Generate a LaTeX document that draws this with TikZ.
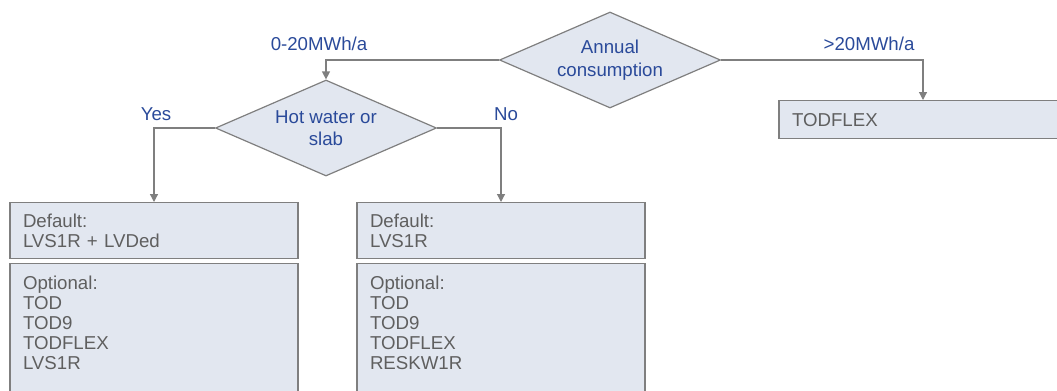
\documentclass[tikz,border=0pt]{standalone}
\usepackage{fontspec}
\setmainfont{Liberation Sans}
\usetikzlibrary{shapes.geometric,arrows.meta}
\definecolor{boxfill}{HTML}{E2E7F0}
\definecolor{boxline}{HTML}{7F7F7F}
\definecolor{labblue}{HTML}{2A4A9A}
\definecolor{txtgrey}{HTML}{5F5F5F}
\tikzset{
  decision/.style={diamond, draw=boxline, fill=boxfill, line width=0.9pt, text=labblue,
    align=center, inner sep=0pt, aspect=2.3, minimum width=165.75pt, minimum height=72pt,
    font=\fontsize{14}{17}\selectfont},
  tarbox/.style={draw=boxline, fill=boxfill, line width=0.9pt, text=txtgrey, align=left,
    anchor=north, minimum width=216pt, text width=196.5pt, inner xsep=9.75pt,
    minimum height=42pt, font=\fontsize{14}{15}\selectfont},
  optbox/.style={draw=boxline, fill=boxfill, line width=0.9pt, text=txtgrey, anchor=north,
    minimum width=216pt, inner xsep=9.75pt, inner ysep=9pt, font=\fontsize{14}{15}\selectfont},
  branch/.style={text=labblue, font=\fontsize{14}{17}\selectfont},
  flow/.style={draw=boxline, line width=0.9pt, -{Triangle[length=6pt,width=6pt]}},
}
\newcommand{\optlist}[1]{\parbox[t][110pt][t]{196.5pt}{#1}}
\begin{document}
\begin{tikzpicture}[x=0.75pt,y=-0.75pt]
  \path[use as bounding box] (0,0) rectangle (1057,390);
  \clip (0,0) rectangle (1057,390);

  % decisions
  \node[decision] (annual) at (610,60) {Annual\\consumption};
  \node[decision] (hotwater) at (326,128) {Hot water or\\slab};

  % tariffs
  \node[tarbox, minimum height=28.5pt] (flexbig) at (923,100) {TODFLEX};
  \node[tarbox] (defyes) at (154,202) {Default:\\LVS1R + LVDed};
  \node[tarbox] (defno) at (501,202) {Default:\\LVS1R};
  \node[optbox] (optyes) at (154,263) {\optlist{Optional:\\TOD\\TOD9\\TODFLEX\\LVS1R}};
  \node[optbox] (optno) at (501,263) {\optlist{Optional:\\TOD\\TOD9\\TODFLEX\\RESKW1R}};

  % branches
  \draw[flow] (annual.west) -| (hotwater.north);
  \draw[flow] (annual.east) -| (flexbig.north);
  \draw[flow] (hotwater.west) -| (defyes.north);
  \draw[flow] (hotwater.east) -| (defno.north);

  \node[branch] (lowuse) at (319,44) {0-20MWh/a};
  \node[branch] (highuse) at (869,44) {>20MWh/a};
  \node[branch] (yeslab) at (156,114) {Yes};
  \node[branch] (nolab) at (506,114) {No};
\end{tikzpicture}
\end{document}
